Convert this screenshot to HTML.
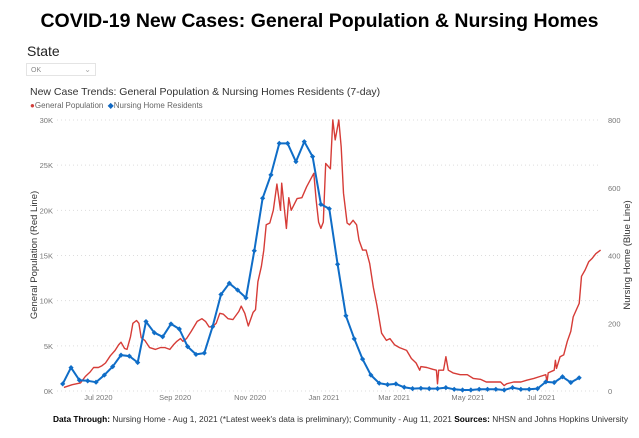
<!DOCTYPE html>
<html><head><meta charset="utf-8"><style>
body{margin:0;width:639px;height:438px;background:#fff;font-family:"Liberation Sans",sans-serif;overflow:hidden;position:relative}
.abs{position:absolute;white-space:nowrap}
</style></head><body>
<div class="abs" style="left:0;width:639px;top:10px;text-align:center;font-weight:bold;font-size:19.5px;color:#000">COVID-19 New Cases: General Population &amp; Nursing Homes</div>
<div class="abs" style="left:27px;top:43px;font-size:14px;color:#222">State</div>
<div class="abs" style="left:26px;top:63px;width:70px;height:13px;border:1px solid #e4e4e4;font-size:7px;color:#888;line-height:13px;padding-left:4px;box-sizing:border-box">OK<span style="position:absolute;right:4px;top:-1px;color:#aaa;font-size:8px">&#8964;</span></div>
<div class="abs" style="left:30px;top:86px;font-size:10.5px;color:#333">New Case Trends: General Population &amp; Nursing Homes Residents (7-day)</div>
<div class="abs" style="left:30px;top:101px;font-size:8px;color:#666">
<span><span style="color:#d13f3a">&#9679;</span>General Population</span>
<span style="margin-left:2px"><span style="color:#1068c2">&#9670;</span>Nursing Home Residents</span></div>
<svg id="chart" width="639" height="438" style="position:absolute;left:0;top:0" font-family="Liberation Sans, sans-serif"></svg>
<div class="abs" style="left:53px;top:414px;font-size:8.35px;color:#333"><b style="color:#000">Data Through:</b> Nursing Home - Aug 1, 2021 (*Latest week's data is preliminary); Community -  Aug 11, 2021 <b style="color:#000">Sources:</b> NHSN and Johns Hopkins University</div>
<script>
const leftTicks=[0,5,10,15,20,25,30];
const leftTickLabels=["0K","5K","10K","15K","20K","25K","30K"];
const rightTicks=[0,200,400,600,800];
const dateTickDays=[30,94.5,157.5,219.5,278.5,340.5,402];
const dateTickLabels=["Jul 2020","Sep 2020","Nov 2020","Jan 2021","Mar 2021","May 2021","Jul 2021"];
const nursingValues=[21,69,32,30,26,47,72,106,103,84,205,172,160,198,183,131,108,112,190,285,318,298,275,414,569,638,731,731,677,736,692,551,538,374,222,154,94,47,23,19,21,11,7,8,7,7,10,5,3,3,5,5,5,3,10,5,5,7,27,25,42,25,39];
const generalDays=[1,8,15,19,23,26,30,33,36,40,44,47,49,52,54,57,59,62,64,66,69,73,78,82,86,90,93,96,99,101,104,108,113,117,120,123,126,129,132,135,139,143,148,150,153,156,160,162,164,167,169,171,174,177,180,183,184,188,190,192,197,201,205,211,213,215,217,219,221,225,227,229,232,234,236,239,241,244,247,249,252,255,258,261,264,268,272,275,279,283,289,293,297,300,301,306,311,314,315,316,320,322,324,328,334,340,345,351,356,362,368,371,373,379,385,390,396,401,406,407,408,413,414,415,418,421,424,427,429,434,436,439,442,445,448,452];
const generalValues=[0.4,0.7,0.9,1.6,2.1,2.6,2.6,2.8,3.1,3.9,4.5,5.1,5.4,4.7,4.6,6.0,7.5,7.8,7.5,5.9,5.6,4.8,4.6,4.8,4.8,4.6,5.1,5.5,5.8,5.5,5.8,6.6,7.7,8.0,7.7,7.1,7.1,7.5,8.6,8.5,8.0,7.9,8.8,9.4,8.6,7.2,8.7,9.0,12.1,13.8,15.6,18.4,18.6,20.0,22.9,20.0,23.0,18.0,21.4,20.0,21.3,21.4,22.6,24.1,21.1,18.7,18.0,18.7,25.2,24.6,30.0,27.8,30.0,27.0,21.9,18.6,18.4,18.9,18.4,16.7,15.6,15.6,14.1,11.5,9.5,6.4,5.6,5.8,5.1,4.8,4.5,3.6,3.1,2.3,2.7,2.6,2.4,2.3,0.8,2.3,2.3,3.8,2.3,2.0,1.8,1.8,1.4,1.3,1.0,1.0,1.0,0.6,0.8,1.0,1.0,1.2,1.4,1.6,1.8,1.0,2.0,2.3,3.4,2.5,3.8,4.0,5.5,6.6,8.2,9.7,12.7,13.4,14.3,14.7,15.2,15.6];

const NS="http://www.w3.org/2000/svg";
const svg=document.getElementById('chart');
const X0=62.7,PX=1.19,Y0=391,YT=120;
const xDay=d=>X0+d*PX;
const yLeft=v=>Y0-(v/30)*(Y0-YT);
const yRight=v=>Y0-(v/800)*(Y0-YT);
function mk(tag,attrs){const e=document.createElementNS(NS,tag);for(const k in attrs)e.setAttribute(k,attrs[k]);svg.appendChild(e);return e;}
leftTicks.forEach((t,i)=>{
 const g=mk('line',{x1:57,x2:600,y1:yLeft(t),y2:yLeft(t),stroke:'#ddd','stroke-width':1,'stroke-dasharray':'1,3'});
 
 
 const tx=mk('text',{x:53,y:yLeft(t)+3,'text-anchor':'end','font-size':7.5,fill:'#777'});
 tx.textContent=leftTickLabels[i];
 
 
});
rightTicks.forEach(t=>{
 const tx=mk('text',{x:608,y:yRight(t)+3,'font-size':7.5,fill:'#777'});
 tx.textContent=String(t);
 
 
});
dateTickDays.forEach((d,i)=>{
 const tx=mk('text',{x:xDay(d),y:400,'text-anchor':'middle','font-size':7.5,fill:'#777'});
 tx.textContent=dateTickLabels[i];
 
 
});
const yt=mk('text',{transform:'translate(37,255) rotate(-90)','text-anchor':'middle','font-size':9.5,fill:'#333'});
yt.textContent='General Population (Red Line)';


const yt2=mk('text',{transform:'translate(630,255) rotate(-90)','text-anchor':'middle','font-size':9.5,fill:'#333'});
yt2.textContent='Nursing Home (Blue Line)';


const red=mk('polyline',{points:generalDays.map((d,i)=>xDay(d).toFixed(1)+','+yLeft(generalValues[i]).toFixed(1)).join(' '),fill:'none',stroke:'#d63c37','stroke-width':1.4,'stroke-linejoin':'round'});


const blue=mk('polyline',{points:nursingValues.map((v,i)=>xDay(i*7).toFixed(1)+','+yRight(v).toFixed(1)).join(' '),fill:'none',stroke:'#0f6dc7','stroke-width':2,'stroke-linejoin':'round'});


nursingValues.forEach((v,i)=>{
 const x=xDay(i*7),y=yRight(v);
 const p=mk('polygon',{points:`${x},${y-2.6} ${x+2.6},${y} ${x},${y+2.6} ${x-2.6},${y}`,fill:'#0f6dc7'});
 
 
});
</script>
</body></html>
